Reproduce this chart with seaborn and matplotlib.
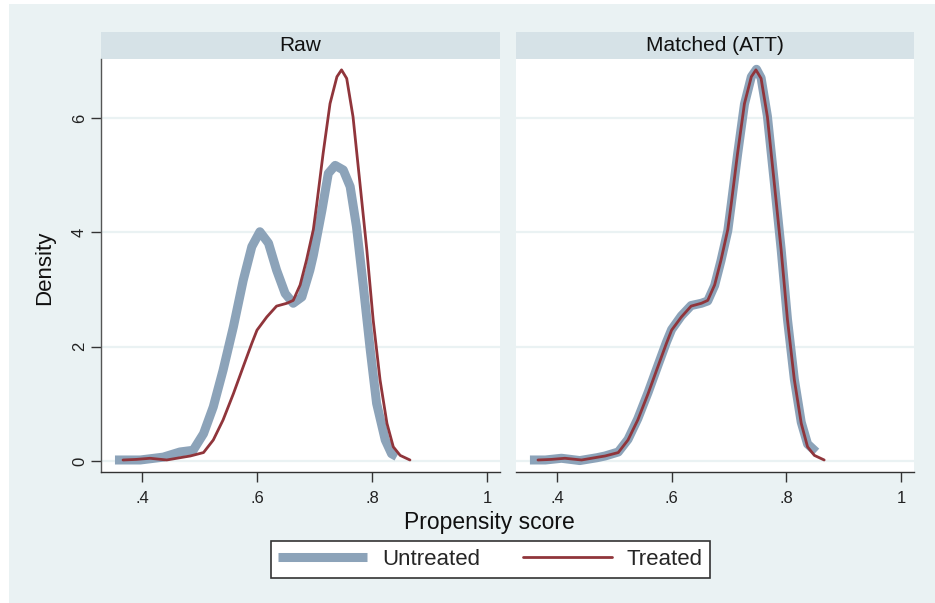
import matplotlib
matplotlib.use("Agg")
import matplotlib.pyplot as plt
import seaborn as sns
import pandas as pd
from matplotlib.patches import Rectangle
from matplotlib.lines import Line2D

# kernel density curves
treated_x = [0.367, 0.390, 0.414, 0.443, 0.472, 0.484, 0.507, 0.524, 0.541, 0.559,
             0.576, 0.591, 0.600, 0.617, 0.634, 0.652, 0.663, 0.675, 0.686, 0.698,
             0.704, 0.715, 0.727, 0.739, 0.747, 0.756, 0.767, 0.779, 0.791, 0.802,
             0.814, 0.826, 0.837, 0.849, 0.866]
treated_y = [0.02, 0.03, 0.05, 0.02, 0.07, 0.09, 0.15, 0.37, 0.72, 1.18,
             1.65, 2.06, 2.29, 2.52, 2.71, 2.76, 2.81, 3.08, 3.51, 4.05,
             4.50, 5.38, 6.25, 6.72, 6.84, 6.69, 6.02, 4.86, 3.69, 2.47,
             1.42, 0.66, 0.25, 0.10, 0.02]

raw_untreated_x = [0.353, 0.397, 0.437, 0.466, 0.489, 0.507, 0.524, 0.541, 0.559, 0.576,
                   0.591, 0.605, 0.620, 0.634, 0.649, 0.663, 0.678, 0.692, 0.698, 0.713,
                   0.724, 0.736, 0.750, 0.762, 0.773, 0.785, 0.797, 0.808, 0.823, 0.834,
                   0.843]
raw_untreated_y = [0.02, 0.02, 0.07, 0.16, 0.19, 0.48, 0.95, 1.59, 2.35, 3.16,
                   3.75, 4.01, 3.81, 3.34, 2.93, 2.76, 2.87, 3.34, 3.60, 4.39,
                   5.03, 5.17, 5.09, 4.80, 4.10, 3.05, 1.94, 1.01, 0.37, 0.13,
                   0.08]

matched_untreated_x = [0.353, 0.380, 0.408, 0.440, 0.470, 0.484, 0.507, 0.524, 0.541, 0.559,
                       0.576, 0.591, 0.600, 0.617, 0.634, 0.652, 0.663, 0.675, 0.686, 0.698,
                       0.704, 0.715, 0.727, 0.739, 0.748, 0.756, 0.767, 0.779, 0.791, 0.802,
                       0.814, 0.826, 0.837, 0.852]
matched_untreated_y = [0.02, 0.02, 0.05, 0.01, 0.06, 0.09, 0.16, 0.38, 0.74, 1.20,
                       1.67, 2.08, 2.30, 2.54, 2.72, 2.76, 2.80, 3.07, 3.50, 4.03,
                       4.49, 5.36, 6.24, 6.72, 6.85, 6.70, 6.03, 4.88, 3.70, 2.48,
                       1.43, 0.68, 0.30, 0.16]

panels = ["Raw", "Matched (ATT)"]
x_ticks = [0.4, 0.6, 0.8, 1.0]
x_tick_labels = [".4", ".6", ".8", "1"]
y_ticks = [0, 2, 4, 6]
series_names = ["Untreated", "Treated"]

bg = "#eaf2f3"
strip = "#d6e2e7"
c_untr = "#8ca3b9"
c_tr = "#90353b"

sns.set_style("white")
plt.rcParams["font.family"] = ["Liberation Sans", "DejaVu Sans"]

fig = plt.figure(figsize=(9.35, 6.03), dpi=100)
fig.patch.set_facecolor("white")
fig.patches.append(Rectangle((9 / 935, 0), 1 - 9 / 935, 1 - 4 / 603,
                             transform=fig.transFigure, facecolor=bg,
                             edgecolor="none", zorder=-10))

W, H = 935, 603
ax_top, ax_bot = 59, 472
boxes = [(101, 500), (516, 914)]
curves = [
    (raw_untreated_x, raw_untreated_y),
    (matched_untreated_x, matched_untreated_y),
]

for i, (name, (x0, x1)) in enumerate(zip(panels, boxes)):
    ax = fig.add_axes([x0 / W, 1 - ax_bot / H, (x1 - x0) / W, (ax_bot - ax_top) / H])
    ax.set_facecolor("white")
    for y in y_ticks:
        ax.axhline(y, color=bg, lw=1.6, zorder=0)

    ux, uy = curves[i]
    du = pd.DataFrame({"x": ux, "y": uy})
    dt = pd.DataFrame({"x": treated_x, "y": treated_y})
    sns.lineplot(data=du, x="x", y="y", ax=ax, color=c_untr, lw=6.5,
                 sort=False, estimator=None, solid_capstyle="butt",
                 solid_joinstyle="round")
    sns.lineplot(data=dt, x="x", y="y", ax=ax, color=c_tr, lw=2.0,
                 sort=False, estimator=None, solid_joinstyle="round")

    ax.set_xlim(0.3287, 1.0226)
    ax.set_ylim(-0.19, 7.03)
    ax.set_xticks(x_ticks)
    ax.set_xticklabels(x_tick_labels)
    ax.set_xlabel("")
    ax.set_ylabel("")
    ax.tick_params(axis="x", length=7, width=1, color="#333333", pad=7,
                   labelsize=12, labelcolor="#222222", direction="out", bottom=True)
    for s in ["top", "right"]:
        ax.spines[s].set_visible(False)
    ax.spines["bottom"].set_color("#333333")
    ax.spines["bottom"].set_linewidth(1.0)
    if i == 0:
        ax.set_yticks(y_ticks)
        ax.set_yticklabels([str(v) for v in y_ticks], rotation=90, va="center")
        ax.tick_params(axis="y", length=7, width=1, color="#333333", pad=3,
                       labelsize=12, labelcolor="#222222", direction="out", left=True)
        ax.spines["left"].set_color("#555555")
        ax.spines["left"].set_linewidth(1.0)
    else:
        ax.set_yticks([])
        ax.spines["left"].set_visible(False)

    sh = 27 / (ax_bot - ax_top)
    ax.add_patch(Rectangle((0, 1), 1, sh, transform=ax.transAxes, facecolor=strip,
                           edgecolor="none", clip_on=False))
    ax.text(0.5, 1 + sh / 2, name, transform=ax.transAxes, ha="center", va="center",
            fontsize=15, color="#111111")

fig.text(45 / W, 1 - 268 / H, "Density", rotation=90, ha="center", va="center",
         fontsize=16, color="#111111")
fig.text(489 / W, 1 - 522 / H, "Propensity score", ha="center", va="center",
         fontsize=16.5, color="#111111")

handles = [Line2D([], [], color=c_untr, lw=6.5, solid_capstyle="butt"),
           Line2D([], [], color=c_tr, lw=2.0)]
leg = fig.legend(handles, series_names, loc="center", ncol=2,
                 bbox_to_anchor=(490.5 / W, 1 - 559.5 / H), frameon=True,
                 fancybox=False, fontsize=16, handlelength=4.0, handletextpad=0.68,
                 columnspacing=1.9, borderpad=0.35, borderaxespad=0)
leg.get_frame().set_edgecolor("#333333")
leg.get_frame().set_linewidth(1.2)
leg.get_frame().set_facecolor("white")
leg.get_frame().set_alpha(1)

fig.savefig("out.png", dpi=100)
